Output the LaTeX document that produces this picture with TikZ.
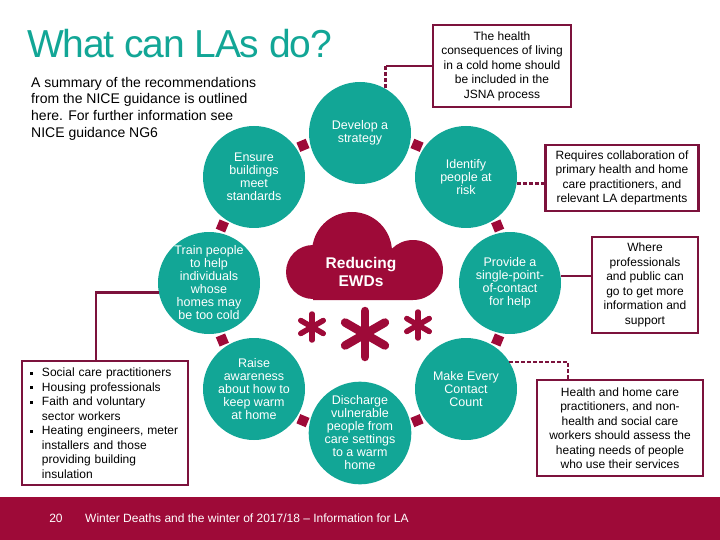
\documentclass[tikz,border=0pt]{standalone}
\usepackage{fontspec}
\setmainfont{Liberation Sans}
\newfontfamily\titlefont[LetterSpace=-3]{Liberation Sans}
\definecolor{lateal}{RGB}{18,166,150}
\definecolor{lamaroon}{RGB}{158,10,56}
\definecolor{laline}{RGB}{124,18,60}
\newcommand\sqbullet{\makebox[12pt][l]{\rule[1.8pt]{3pt}{3pt}}}

\begin{document}
\begin{tikzpicture}[x=1pt,y=-1pt,
  act/.style={circle,fill=lateal,minimum size=102pt,inner sep=0pt,align=center,text=white,font=\fontsize{12.5}{13}\selectfont},
  info/.style={draw=laline,line width=2.6pt,fill=white,align=center,inner sep=3pt,font=\fontsize{12}{14.5}\selectfont},
  link/.style={draw=laline,line width=2.6pt},
  softlink/.style={link,dash pattern=on 4pt off 2pt},
  gap/.style={fill=lamaroon,minimum size=10pt,inner sep=0pt},
  flake/.style={lamaroon,line cap=round}]
\useasboundingbox (0,0) rectangle (720,540);

% heading
\node[anchor=base west,inner sep=0pt,text=lateal,font=\titlefont\fontsize{39}{42}\selectfont] (title) at (27,58) {What can LAs do?};
\node[anchor=north west,inner sep=0pt,align=left,font=\fontsize{14}{16.6}\selectfont] (intro) at (31,77)
  {A summary of the recommendations\\from the NICE guidance is outlined\\here. For further information see\\NICE guidance NG6};

% ring of actions
\coordinate (hub) at (360,283);
\node[act] (strategy) at (360,133) {Develop a\\strategy};
\node[act] (identify) at (466,177) {Identify\\people at\\risk};
\node[act] (contact) at (510,283) {Provide a\\single-point-\\of-contact\\for help};
\node[act] (mecc) at (466,389) {Make Every\\Contact\\Count};
\node[act] (discharge) at (360,433) {Discharge\\vulnerable\\people from\\care settings\\to a warm\\home};
\node[act] (aware) at (254,389) {Raise\\awareness\\about how to\\keep warm\\at home};
\node[act] (train) at (209,283) {Train people\\to help\\individuals\\whose\\homes may\\be too cold};
\node[act] (ensure) at (254,177) {Ensure\\buildings\\meet\\standards};
\foreach \a [count=\i] in {22.5,67.5,...,337.5}
  \node[gap,rotate=\a] (gap\i) at ([shift={(\a:149pt)}]hub) {};

% cloud and snow
\fill[lamaroon] (313,272) circle (27pt) (352,252) circle (40pt) (413,270) circle (30pt) (313,260) rectangle (413,300);
\node[text=white,align=center,font=\bfseries\fontsize{15.5}{18}\selectfont] (ewd) at (361,272) {Reducing\\EWDs};
\foreach \cx/\cy/\r/\w in {312/327/13pt/5.5pt, 365/334/23pt/8.5pt, 418/325/13pt/5.5pt}
  \foreach \a in {90,30,-30}
    \draw[flake,line width=\w] ([shift={(\a:\r)}]\cx,\cy) -- ([shift={(\a+180:\r)}]\cx,\cy);

% notes
\node[info,minimum width=138pt,minimum height=82pt] (jsna) at (502,66)
  {The health\\consequences of living\\in a cold home should\\be included in the\\JSNA process};
\node[info,minimum width=153pt,minimum height=66pt] (collab) at (622,178)
  {Requires collaboration of\\primary health and home\\care practitioners, and\\relevant LA departments};
\node[info,minimum width=106pt,minimum height=96pt] (where) at (645,285)
  {Where\\professionals\\and public can\\go to get more\\information and\\support};
\node[info,minimum width=166pt,minimum height=96pt] (assess) at (620,428)
  {Health and home care\\practitioners, and non-\\health and social care\\workers should assess the\\heating needs of people\\who use their services};
\node[info,align=left,text width=150pt,inner xsep=8pt,minimum height=124pt] (workers) at (105,423)
  {\sqbullet Social care practitioners\\\sqbullet Housing professionals\\\sqbullet Faith and voluntary\\\hspace*{12pt}sector workers\\\sqbullet Heating engineers, meter\\\hspace*{12pt}installers and those\\\hspace*{12pt}providing building\\\hspace*{12pt}insulation};

\draw[link] (jsna.west) -- ++(-46,0) coordinate (bend1);
\draw[softlink] (bend1) -- (bend1 |- strategy.58);
\draw[softlink] (identify.-7) -- (identify.-7 -| collab.west);
\draw[link] (contact.8) -- (contact.8 -| where.west);
\draw[softlink] (mecc.32) -| ([xshift=-52pt]assess.north);
\draw[link] (train.191) -| ([xshift=-9pt]workers.north);

% footer
\fill[lamaroon] (0,497) rectangle (720,540);
\node[anchor=base,text=white,font=\fontsize{12}{14}\selectfont] (page) at (56,522) {20};
\node[anchor=base west,inner sep=0pt,text=white,font=\fontsize{12}{14}\selectfont] (foot) at (85,522) {Winter Deaths and the winter of 2017/18 -- Information for LA};
\end{tikzpicture}
\end{document}
